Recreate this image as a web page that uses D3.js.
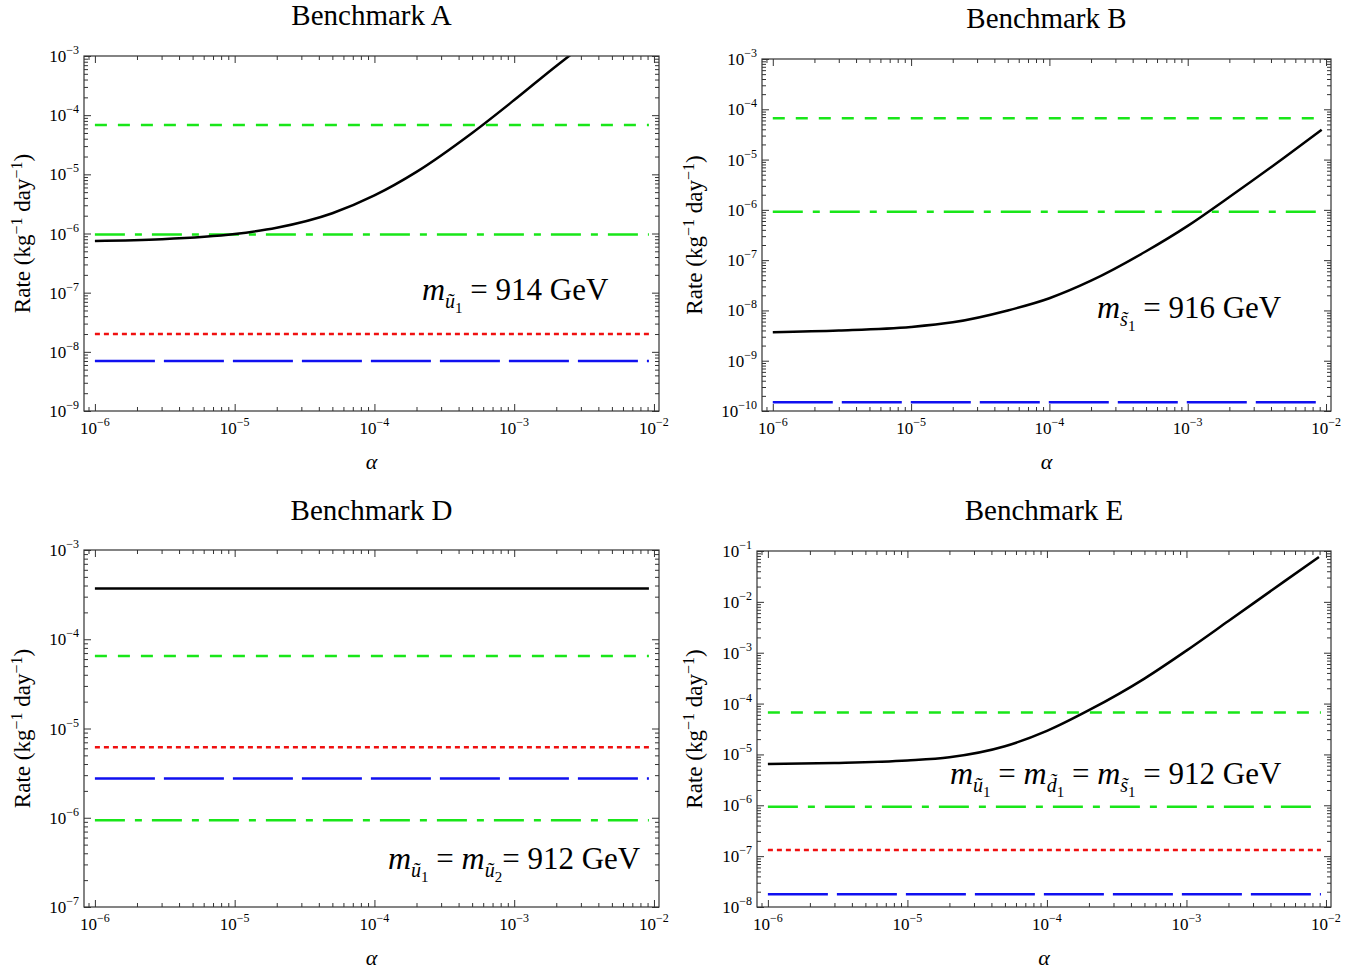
<!DOCTYPE html>
<html>
<head>
<meta charset="utf-8">
<script src="https://cdn.jsdelivr.net/npm/d3@7"></script>
<style>
  body { margin: 0; background: #fff; }
  svg { display: block; }
  text { font-family: "Liberation Serif", "DejaVu Serif", serif; fill: #000; }
</style>
</head>
<body>
<svg width="1364" height="973"></svg>
<script>
var svg = d3.select("svg");

// ---- data ----
var titles = ["Benchmark A", "Benchmark B", "Benchmark D", "Benchmark E"];

// black curves (rate vs alpha)
var alphaA = [1e-6, 3e-6, 1e-5, 2e-5, 5e-5, 1e-4, 2e-4, 5e-4, 1e-3, 2e-3, 2.6e-3];
var rateA  = [7.5e-7, 8.0e-7, 9.8e-7, 1.25e-6, 2.2e-6, 4.4e-6, 1.1e-5, 5.0e-5, 1.8e-4, 6.8e-4, 1.1e-3];

var alphaB = [1e-6, 3e-6, 1e-5, 2e-5, 5e-5, 1e-4, 2e-4, 5e-4, 1e-3, 2e-3, 5e-3, 9.3e-3];
var rateB  = [3.7e-9, 4.0e-9, 4.7e-9, 5.8e-9, 1.0e-8, 1.75e-8, 3.9e-8, 1.5e-7, 4.8e-7, 1.8e-6, 1.1e-5, 3.9e-5];

var alphaD = [1e-6, 9.2e-3];
var rateD  = [3.7e-4, 3.7e-4];

var alphaE = [1e-6, 3e-6, 1e-5, 2e-5, 5e-5, 1e-4, 2e-4, 5e-4, 1e-3, 2e-3, 5e-3, 8.9e-3];
var rateE  = [6.5e-6, 6.8e-6, 7.6e-6, 8.8e-6, 1.45e-5, 2.9e-5, 7.4e-5, 3.1e-4, 1.1e-3, 4.2e-3, 2.5e-2, 7.6e-2];

// horizontal reference levels: green dashed, green dot-dashed, red dotted, blue long-dashed
var levelAlpha = [1e-6, 9.2e-3];
var levelsA = [6.8e-5, 9.6e-7, 2.0e-8, 7.0e-9];
var levelsB = [6.6e-5, 9.2e-7, null, 1.5e-10];
var levelsD = [6.5e-5, 9.4e-7, 6.15e-6, 2.76e-6];
var levelsE = [6.7e-5, 9.4e-7, 1.32e-7, 1.78e-8];

// y ranges (decades)
var yRangeA = [1e-9, 1e-3];
var yRangeB = [1e-10, 1e-3];
var yRangeD = [1e-7, 1e-3];
var yRangeE = [1e-8, 1e-1];

// ---- layout / style ----
var levelStyles = [
  {color: "#19e619", dash: "12,11"},
  {color: "#19e619", dash: "30,10,7,10"},
  {color: "#f01010", dash: "5,4"},
  {color: "#1010f0", dash: "60,9"}
];

var panels = [
  {frame: {l: 84,  t: 56,  r: 659,  b: 411}, alpha: alphaA, rate: rateA, levels: levelsA, yr: yRangeA, titleY: 25,  ylabX: 30,  note: [422, 300]},
  {frame: {l: 762, t: 59,  r: 1331, b: 411}, alpha: alphaB, rate: rateB, levels: levelsB, yr: yRangeB, titleY: 28,  ylabX: 702, note: [1097, 318]},
  {frame: {l: 84,  t: 550, r: 659,  b: 907}, alpha: alphaD, rate: rateD, levels: levelsD, yr: yRangeD, titleY: 520, ylabX: 30,  note: [388, 869]},
  {frame: {l: 757, t: 551, r: 1331, b: 907}, alpha: alphaE, rate: rateE, levels: levelsE, yr: yRangeE, titleY: 520, ylabX: 702, note: [950, 784]}
];

// annotation pieces: [text, kind]
var notes = [
  [["m", "it"], ["\u0169", "sub"], ["1", "subsub"], [" = 914 GeV", "rm"]],
  [["m", "it"], ["s\u0303", "sub"], ["1", "subsub"], [" = 916 GeV", "rm"]],
  [["m", "it"], ["\u0169", "sub"], ["1", "subsub"], [" = ", "rm"], ["m", "it"], ["\u0169", "sub"], ["2", "subsub"], ["= 912 GeV", "rm"]],
  [["m", "it"], ["\u0169", "sub"], ["1", "subsub"], [" = ", "rm"], ["m", "it"], ["d\u0303", "sub"], ["1", "subsub"], [" = ", "rm"],
   ["m", "it"], ["s\u0303", "sub"], ["1", "subsub"], [" = 912 GeV", "rm"]]
];

var xDomain = [Math.pow(10, -6.078), Math.pow(10, -1.964)];

function powLabel(t, e) {
  t.append("tspan").text("10");
  t.append("tspan").attr("font-size", 12).attr("dy", -8).text("\u2212" + Math.abs(e));
}

function mathText(t, parts) {
  var level = 0; // 0 base, 1 sub, 2 subsub
  var offs = [0, 8, 13];
  parts.forEach(function(p) {
    var kind = p[1], lv = kind == "sub" ? 1 : kind == "subsub" ? 2 : 0;
    var ts = t.append("tspan").text(p[0]).attr("dy", offs[lv] - offs[level]);
    level = lv;
    if (kind == "it") ts.attr("font-style", "italic").attr("font-size", 32);
    if (kind == "rm") ts.attr("font-size", 31);
    if (kind == "sub") ts.attr("font-style", "italic").attr("font-size", 20);
    if (kind == "subsub") ts.attr("font-size", 15);
  });
}

panels.forEach(function(p, i) {
  var f = p.frame;
  var x = d3.scaleLog().domain(xDomain).range([f.l, f.r]);
  var y = d3.scaleLog().domain(p.yr).range([f.b, f.t]);
  var g = svg.append("g");

  var e0 = Math.round(Math.log10(p.yr[0])), e1 = Math.round(Math.log10(p.yr[1]));
  var majY = d3.range(e0, e1 + 1);
  var minY = [];
  for (var e = e0; e < e1; e++) for (var k = 2; k <= 9; k++) minY.push(k * Math.pow(10, e));
  var majX = d3.range(-6, -1);
  var minX = [];
  for (var e = -7; e <= -2; e++) for (var k = 2; k <= 9; k++) {
    var v = k * Math.pow(10, e);
    if (v > xDomain[0] && v < xDomain[1]) minX.push(v);
  }
  var majXv = majX.map(function(e) { return Math.pow(10, e); });
  var majYv = majY.map(function(e) { return Math.pow(10, e); });

  // ticks, all pointing inward
  function ticks(axis, vals, size, tr) {
    var a = g.append("g").attr("transform", tr)
      .call(axis.tickValues(vals).tickSize(-size).tickFormat(""));
    a.select(".domain").remove();
    a.selectAll("line").attr("stroke", "#333").attr("stroke-width", 1);
  }
  ticks(d3.axisBottom(x), majXv, 7, "translate(0," + f.b + ")");
  ticks(d3.axisBottom(x), minX, 4, "translate(0," + f.b + ")");
  ticks(d3.axisTop(x), majXv, 7, "translate(0," + f.t + ")");
  ticks(d3.axisTop(x), minX, 4, "translate(0," + f.t + ")");
  ticks(d3.axisLeft(y), majYv, 7, "translate(" + f.l + ",0)");
  ticks(d3.axisLeft(y), minY, 4, "translate(" + f.l + ",0)");
  ticks(d3.axisRight(y), majYv, 7, "translate(" + f.r + ",0)");
  ticks(d3.axisRight(y), minY, 4, "translate(" + f.r + ",0)");

  // tick labels
  majX.forEach(function(e) {
    var t = g.append("text").attr("x", x(Math.pow(10, e))).attr("y", f.b + 23)
      .attr("text-anchor", "middle").attr("font-size", 17);
    powLabel(t, e);
  });
  majY.forEach(function(e) {
    var t = g.append("text").attr("x", f.l - 5).attr("y", y(Math.pow(10, e)) + 6)
      .attr("text-anchor", "end").attr("font-size", 17);
    powLabel(t, e);
  });

  // clip
  var cid = "clip" + i;
  svg.append("clipPath").attr("id", cid).append("rect")
    .attr("x", f.l).attr("y", f.t).attr("width", f.r - f.l).attr("height", f.b - f.t);
  var plot = g.append("g").attr("clip-path", "url(#" + cid + ")");

  var line = d3.line()
    .x(function(d) { return x(d[0]); })
    .y(function(d) { return y(d[1]); })
    .curve(d3.curveMonotoneX);

  p.levels.forEach(function(v, j) {
    if (v == null) return;
    plot.append("path")
      .attr("d", line(levelAlpha.map(function(a) { return [a, v]; })))
      .attr("fill", "none")
      .attr("stroke", levelStyles[j].color)
      .attr("stroke-width", 2.5)
      .attr("stroke-dasharray", levelStyles[j].dash);
  });

  plot.append("path")
    .attr("d", line(p.alpha.map(function(a, k) { return [a, p.rate[k]]; })))
    .attr("fill", "none")
    .attr("stroke", "#000")
    .attr("stroke-width", 2.5);

  // frame
  g.append("rect").attr("x", f.l).attr("y", f.t)
    .attr("width", f.r - f.l).attr("height", f.b - f.t)
    .attr("fill", "none").attr("stroke", "#333").attr("stroke-width", 1.2);

  // titles and axis labels
  g.append("text").attr("x", (f.l + f.r) / 2).attr("y", p.titleY)
    .attr("text-anchor", "middle").attr("font-size", 29).text(titles[i]);

  g.append("text").attr("x", (f.l + f.r) / 2).attr("y", f.b + 58)
    .attr("text-anchor", "middle").attr("font-size", 22).attr("font-style", "italic").text("\u03b1");

  var yl = g.append("text")
    .attr("transform", "translate(" + p.ylabX + "," + ((f.t + f.b) / 2) + ") rotate(-90)")
    .attr("text-anchor", "middle").attr("font-size", 23);
  yl.append("tspan").text("Rate (kg");
  yl.append("tspan").attr("font-size", 16).attr("dy", -8).text("\u2212" + "1");
  yl.append("tspan").attr("dy", 8).text(" day");
  yl.append("tspan").attr("font-size", 16).attr("dy", -8).text("\u2212" + "1");
  yl.append("tspan").attr("dy", 8).text(")");

  var nt = g.append("text").attr("x", p.note[0]).attr("y", p.note[1]);
  mathText(nt, notes[i]);
});
</script>
</body>
</html>
